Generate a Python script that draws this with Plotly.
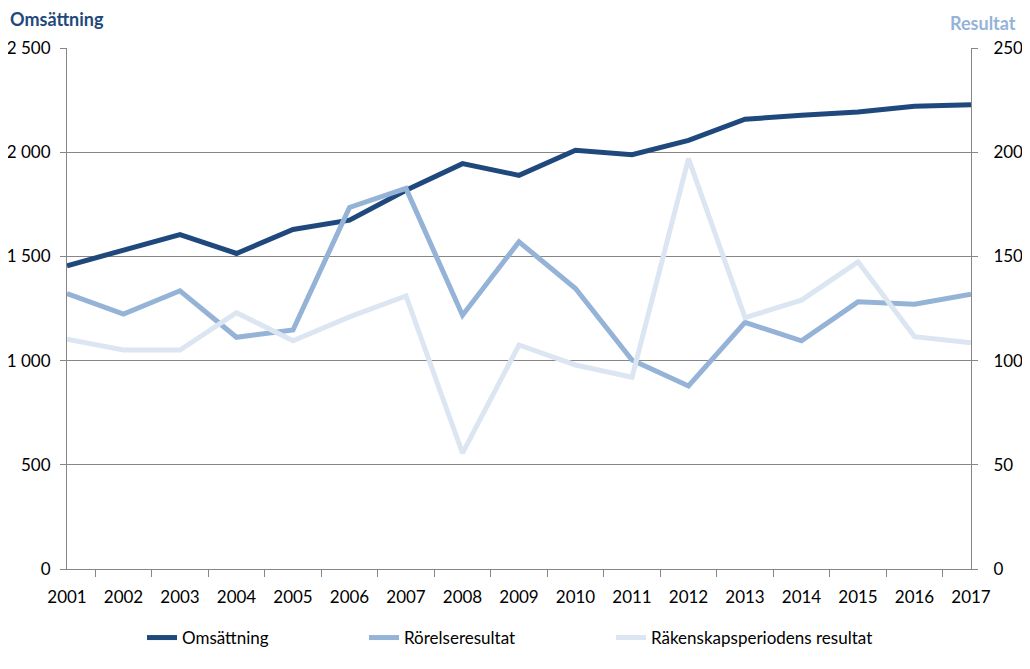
import plotly.graph_objects as go

years = [str(y) for y in range(2001, 2018)]

# Omsättning (left axis)
omsattning = [1455, 1528, 1605, 1514, 1629, 1674, 1817, 1945, 1889, 2009,
              1988, 2057, 2158, 2177, 2193, 2220, 2228]
# Rörelseresultat (right axis)
rorelseresultat = [132.2, 122.3, 133.5, 111.2, 114.7, 173.5, 182.6, 121.8, 157.0,
                   134.6, 100.3, 87.8, 118.3, 109.5, 128.2, 127.0, 131.9]
# Räkenskapsperiodens resultat (right axis)
rakenskap = [110.3, 105.1, 105.1, 123.0, 109.5, 121.0, 131.0, 55.6, 107.5,
             97.9, 92.0, 196.9, 120.6, 129.0, 147.4, 111.5, 108.6]

DARK = "#1F497D"
MID = "#95B3D7"
LIGHT = "#DCE6F2"
GRID = "#868686"
FONT = "Lato"

# the page body has an 8px margin, so the figure is a bit smaller than the window
W, H = 1014, 653
L, R, T, B = 58.5, 50.5, 39.5, 91.7
PW, PH = W - L - R, H - T - B

fig = go.Figure()

fig.add_trace(go.Scatter(x=years, y=omsattning, name="Omsättning", mode="lines",
                         line=dict(color=DARK, width=5), yaxis="y", legend="legend"))
fig.add_trace(go.Scatter(x=years, y=rorelseresultat, name="Rörelseresultat", mode="lines",
                         line=dict(color=MID, width=5), yaxis="y2", legend="legend2"))
fig.add_trace(go.Scatter(x=years, y=rakenskap, name="Räkenskapsperiodens resultat", mode="lines",
                         line=dict(color=LIGHT, width=5), yaxis="y2", legend="legend3"))

leg = dict(orientation="h", xref="container", yref="container", y=(H - 630) / H,
           yanchor="middle", xanchor="left", font=dict(family=FONT, size=17, color="black"),
           bgcolor="rgba(0,0,0,0)", itemwidth=30)

fig.update_layout(
    width=W, height=H,
    margin=dict(l=L, r=R, t=T, b=B, autoexpand=False),
    plot_bgcolor="white", paper_bgcolor="white",
    font=dict(family=FONT, size=17, color="black"),
    separators=", ",
    showlegend=True,
    xaxis=dict(type="category", showline=True, linecolor=GRID, linewidth=1,
               ticks="outside", tickson="boundaries", ticklen=7, tickcolor=GRID,
               showgrid=False, tickfont=dict(size=17), ticklabelstandoff=13,
               automargin=False),
    yaxis=dict(range=[0, 2500], dtick=500, showline=True, linecolor=GRID, linewidth=1,
               ticks="outside", ticklen=6, tickcolor=GRID, gridcolor=GRID, gridwidth=1,
               separatethousands=True, zeroline=False, tickfont=dict(size=17),
               ticklabelstandoff=6, automargin=False),
    yaxis2=dict(range=[0, 250], dtick=50, overlaying="y", side="right", showline=True,
                linecolor=GRID, linewidth=1, ticks="outside", ticklen=6, tickcolor=GRID,
                showgrid=False, zeroline=False, tickfont=dict(size=17),
                ticklabelstandoff=12, automargin=False),
    legend=dict(leg, x=134 / W),
    legend2=dict(leg, x=356 / W),
    legend3=dict(leg, x=603 / W),
    annotations=[
        dict(text="<b>Omsättning</b>", xref="paper", yref="paper", x=(-1 - L) / PW,
             y=(H - B - 10) / PH, xanchor="left", yanchor="middle", showarrow=False,
             font=dict(family=FONT, size=18, color=DARK)),
        dict(text="<b>Resultat</b>", xref="paper", yref="paper", x=(1011 - L) / PW,
             y=(H - B - 14) / PH, xanchor="right", yanchor="middle", showarrow=False,
             font=dict(family=FONT, size=18, color=MID)),
    ],
)

fig.write_html("out.html")
